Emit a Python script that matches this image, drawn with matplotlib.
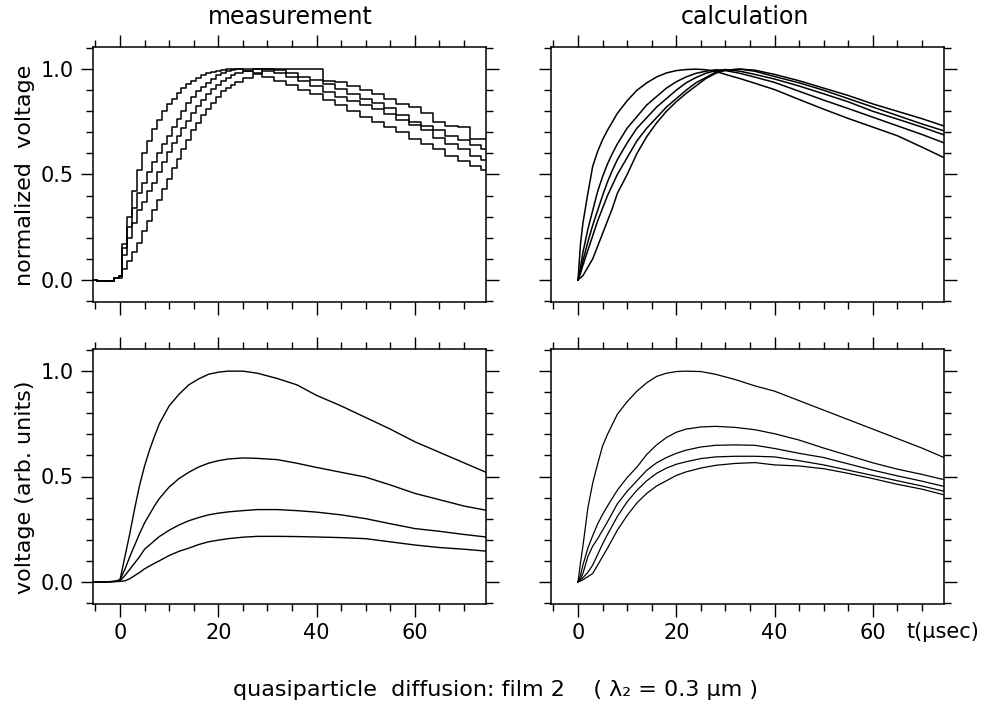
import numpy as np
import matplotlib
matplotlib.use("Agg")
import matplotlib.pyplot as plt
from matplotlib.ticker import MultipleLocator

plt.rcParams['font.family'] = ['DejaVu Sans']

# ---- measurement, normalized (top left) ----
t_meas_norm = [-5.5, -4, -2, -0.5, 0, 1, 2, 3, 4, 5, 6, 7, 8, 9, 10, 11, 12, 13, 14, 15,
               16, 17, 18, 19, 20, 21, 22, 23, 24, 26, 28, 30, 32.5, 35, 37.5, 40, 42.5,
               45, 47.5, 50, 52.5, 55, 57.5, 60, 62.5, 65, 67.5, 70, 72.5, 74.5]
meas_norm_a = [0.0, -0.005, -0.005, 0.01, 0.02, 0.17, 0.30, 0.42, 0.52, 0.60, 0.66, 0.715,
               0.76, 0.80, 0.835, 0.86, 0.885, 0.91, 0.93, 0.945, 0.96, 0.972, 0.98, 0.988,
               0.993, 0.997, 1.0, 1.0, 1.0, 0.99, 0.98, 0.965, 0.945, 0.925, 0.90, 0.88,
               0.855, 0.83, 0.80, 0.775, 0.75, 0.725, 0.70, 0.67, 0.645, 0.62, 0.59, 0.565,
               0.54, 0.52]
meas_norm_b = [0.0, -0.005, -0.005, 0.01, 0.02, 0.15, 0.25, 0.34, 0.41, 0.46, 0.51, 0.56,
               0.60, 0.645, 0.685, 0.725, 0.765, 0.80, 0.84, 0.87, 0.895, 0.915, 0.935,
               0.955, 0.97, 0.98, 0.99, 0.995, 1.0, 1.0, 1.0, 0.99, 0.98, 0.962, 0.945,
               0.92, 0.89, 0.87, 0.85, 0.83, 0.81, 0.785, 0.76, 0.735, 0.71, 0.675, 0.645,
               0.62, 0.59, 0.57]
meas_norm_c = [0.0, -0.005, -0.005, 0.01, 0.02, 0.12, 0.20, 0.27, 0.33, 0.37, 0.42, 0.46,
               0.51, 0.56, 0.605, 0.65, 0.685, 0.72, 0.755, 0.79, 0.825, 0.855, 0.88, 0.905,
               0.925, 0.944, 0.958, 0.97, 0.98, 0.993, 1.0, 1.0, 0.995, 0.98, 0.965, 0.95,
               0.93, 0.905, 0.88, 0.86, 0.84, 0.815, 0.78, 0.75, 0.73, 0.71, 0.685, 0.665,
               0.64, 0.62]
meas_norm_d = [0.0, -0.005, -0.005, 0.01, 0.01, 0.05, 0.09, 0.13, 0.175, 0.23, 0.28, 0.33,
               0.38, 0.43, 0.48, 0.53, 0.575, 0.62, 0.665, 0.71, 0.745, 0.78, 0.81, 0.84,
               0.87, 0.895, 0.91, 0.925, 0.94, 0.96, 0.978, 1.0, 1.0, 1.0, 1.0, 1.0, 0.945,
               0.94, 0.92, 0.90, 0.88, 0.86, 0.835, 0.82, 0.79, 0.75, 0.73, 0.725, 0.667,
               0.667]

# ---- calculation, normalized (top right) ----
t_calc_norm = [0, 0.5, 1, 2, 3, 4, 5, 6, 7, 8, 10, 12, 14, 16, 18, 20, 22, 24, 26, 28, 30,
               33, 36, 40, 45, 50, 55, 60, 65, 70, 74.5]
calc_norm_1 = [0.0, 0.17, 0.27, 0.41, 0.54, 0.61, 0.665, 0.71, 0.75, 0.79, 0.85, 0.90, 0.935,
               0.963, 0.982, 0.993, 0.998, 1.0, 0.997, 0.99, 0.975, 0.955, 0.933, 0.903,
               0.856, 0.81, 0.766, 0.725, 0.684, 0.63, 0.58]
calc_norm_2 = [0.0, 0.06, 0.13, 0.24, 0.33, 0.42, 0.49, 0.55, 0.60, 0.645, 0.72, 0.775, 0.83,
               0.87, 0.91, 0.94, 0.963, 0.98, 0.99, 0.997, 0.993, 0.98, 0.962, 0.937, 0.895,
               0.853, 0.813, 0.772, 0.731, 0.69, 0.65]
calc_norm_3 = [0.0, 0.04, 0.09, 0.18, 0.26, 0.33, 0.40, 0.465, 0.52, 0.57, 0.65, 0.72, 0.77,
               0.82, 0.86, 0.90, 0.935, 0.96, 0.98, 0.993, 0.998, 0.99, 0.975, 0.953, 0.92,
               0.883, 0.845, 0.80, 0.763, 0.725, 0.688]
calc_norm_4 = [0.0, 0.03, 0.07, 0.14, 0.21, 0.28, 0.34, 0.40, 0.45, 0.50, 0.58, 0.66, 0.72,
               0.77, 0.82, 0.86, 0.90, 0.935, 0.96, 0.985, 0.995, 1.0, 0.99, 0.965, 0.935,
               0.90, 0.86, 0.82, 0.78, 0.74, 0.707]
calc_norm_5 = [0.0, 0.01, 0.02, 0.06, 0.10, 0.16, 0.22, 0.28, 0.34, 0.41, 0.50, 0.60, 0.68,
               0.745, 0.80, 0.845, 0.885, 0.92, 0.955, 0.98, 0.995, 1.0, 0.995, 0.975,
               0.945, 0.91, 0.875, 0.835, 0.80, 0.765, 0.73]

# ---- measurement, arb. units (bottom left) ----
t_meas_abs = [-5.5, -3, -1, 0, 1, 2, 3, 4, 5, 6, 7, 8, 10, 12, 14, 16, 18, 20, 22, 25, 28,
              32, 36, 40, 45, 50, 55, 60, 65, 70, 74.5]
meas_abs_1 = [0.0, 0.0, 0.002, 0.01, 0.12, 0.23, 0.35, 0.46, 0.55, 0.625, 0.69, 0.75, 0.835,
              0.89, 0.935, 0.963, 0.985, 0.995, 1.0, 1.0, 0.99, 0.965, 0.935, 0.885, 0.835,
              0.78, 0.725, 0.665, 0.615, 0.565, 0.52]
meas_abs_2 = [0.0, 0.0, 0.002, 0.01, 0.06, 0.12, 0.175, 0.23, 0.28, 0.32, 0.36, 0.395, 0.45,
              0.49, 0.52, 0.545, 0.563, 0.575, 0.583, 0.588, 0.586, 0.58, 0.563, 0.543, 0.52,
              0.497, 0.46, 0.42, 0.39, 0.36, 0.34]
meas_abs_3 = [0.0, 0.0, 0.002, 0.005, 0.03, 0.06, 0.09, 0.12, 0.155, 0.175, 0.195, 0.215,
              0.245, 0.27, 0.29, 0.305, 0.318, 0.326, 0.332, 0.338, 0.343, 0.343, 0.338,
              0.331, 0.318, 0.30, 0.276, 0.253, 0.24, 0.225, 0.213]
meas_abs_4 = [0.0, 0.0, 0.002, 0.002, 0.005, 0.015, 0.03, 0.045, 0.062, 0.075, 0.088, 0.10,
              0.125, 0.145, 0.16, 0.177, 0.19, 0.198, 0.205, 0.212, 0.216, 0.216, 0.215,
              0.213, 0.21, 0.205, 0.19, 0.175, 0.163, 0.155, 0.146]

# ---- calculation, arb. units (bottom right) ----
t_calc_abs = [0, 0.5, 1, 2, 3, 4, 5, 6, 8, 10, 12, 14, 16, 18, 20, 22, 25, 28, 32, 36, 40,
              45, 50, 55, 60, 65, 70, 74.5]
calc_abs_1 = [0.0, 0.09, 0.17, 0.35, 0.47, 0.56, 0.645, 0.70, 0.795, 0.855, 0.905, 0.945,
              0.975, 0.99, 0.998, 1.0, 0.998, 0.985, 0.96, 0.93, 0.905, 0.86, 0.815, 0.77,
              0.725, 0.68, 0.635, 0.59]
calc_abs_2 = [0.0, 0.03, 0.08, 0.16, 0.22, 0.275, 0.32, 0.36, 0.435, 0.495, 0.545, 0.605,
              0.65, 0.685, 0.71, 0.725, 0.735, 0.738, 0.733, 0.722, 0.703, 0.673, 0.635,
              0.60, 0.565, 0.535, 0.51, 0.485]
calc_abs_3 = [0.0, 0.015, 0.04, 0.12, 0.17, 0.205, 0.245, 0.285, 0.37, 0.43, 0.48, 0.53,
              0.565, 0.59, 0.61, 0.625, 0.64, 0.648, 0.65, 0.648, 0.633, 0.61, 0.59, 0.56,
              0.53, 0.503, 0.478, 0.453]
calc_abs_4 = [0.0, 0.008, 0.02, 0.045, 0.08, 0.13, 0.18, 0.225, 0.31, 0.38, 0.435, 0.48,
              0.515, 0.54, 0.558, 0.57, 0.585, 0.593, 0.596, 0.596, 0.593, 0.575, 0.555,
              0.53, 0.505, 0.48, 0.455, 0.43]
calc_abs_5 = [0.0, 0.004, 0.01, 0.025, 0.04, 0.08, 0.12, 0.16, 0.245, 0.315, 0.375, 0.42,
              0.455, 0.48, 0.505, 0.522, 0.54, 0.553, 0.562, 0.566, 0.555, 0.55, 0.537,
              0.515, 0.49, 0.463, 0.44, 0.413]

x_ticks = [0, 20, 40, 60]
y_ticks = [0.0, 0.5, 1.0]
y_ticklabels = ['0.0', '0.5', '1.0']

fig = plt.figure(figsize=(10.05, 7.1), dpi=100)

col_left = [93 / 1005, 551 / 1005]
row_bottom = [1 - 302 / 710, 1 - 604 / 710]
w = 393 / 1005
h = 255 / 710

axes = {}
for r in range(2):
    for c in range(2):
        ax = fig.add_axes([col_left[c], row_bottom[r], w, h])
        ax.set_xlim(-5.5, 74.5)
        ax.set_ylim(-0.105, 1.105)
        ax.xaxis.set_major_locator(MultipleLocator(20))
        ax.xaxis.set_minor_locator(MultipleLocator(5))
        ax.set_yticks(y_ticks)
        ax.yaxis.set_minor_locator(MultipleLocator(0.1))
        ax.tick_params(which='both', direction='out', top=True, right=True,
                       width=1.0, labelsize=15, pad=5)
        ax.tick_params(which='major', length=9)
        ax.tick_params(which='minor', length=5)
        for s in ax.spines.values():
            s.set_linewidth(1.1)
        if c == 0:
            ax.set_yticklabels(y_ticklabels)
        else:
            ax.set_yticklabels([])
        if r == 0:
            ax.set_xticklabels([])
        else:
            ax.set_xticks(x_ticks)
            ax.set_xticklabels([str(v) for v in x_ticks])
        axes[(r, c)] = ax

ax = axes[(0, 0)]
for y in [meas_norm_a, meas_norm_b, meas_norm_c, meas_norm_d]:
    ax.plot(t_meas_norm, y, color='black', lw=1.1, drawstyle='steps-mid')

ax = axes[(0, 1)]
for y in [calc_norm_1, calc_norm_2, calc_norm_3, calc_norm_4, calc_norm_5]:
    ax.plot(t_calc_norm, y, color='black', lw=1.1)

ax = axes[(1, 0)]
for y in [meas_abs_1, meas_abs_2, meas_abs_3, meas_abs_4]:
    ax.plot(t_meas_abs, y, color='black', lw=1.0)

ax = axes[(1, 1)]
for y in [calc_abs_1, calc_abs_2, calc_abs_3, calc_abs_4, calc_abs_5]:
    ax.plot(t_calc_abs, y, color='black', lw=0.9)

fig.text(290 / 1005, 1 - 17 / 710, 'measurement', ha='center', va='center', fontsize=17)
fig.text(745 / 1005, 1 - 17 / 710, 'calculation', ha='center', va='center', fontsize=17)
fig.text(25 / 1005, 1 - 175 / 710, 'normalized  voltage', rotation=90,
         ha='center', va='center', fontsize=16)
fig.text(25 / 1005, 1 - 487 / 710, 'voltage (arb. units)', rotation=90,
         ha='center', va='center', fontsize=16)
fig.text(906 / 1005, 1 - 632 / 710, 't(μsec)', ha='left', va='center', fontsize=15)
fig.text(495 / 1005, 1 - 690 / 710, 'quasiparticle  diffusion: film 2    ( λ₂ = 0.3 μm )',
         ha='center', va='center', fontsize=16)

fig.savefig('out.png', dpi=100)
